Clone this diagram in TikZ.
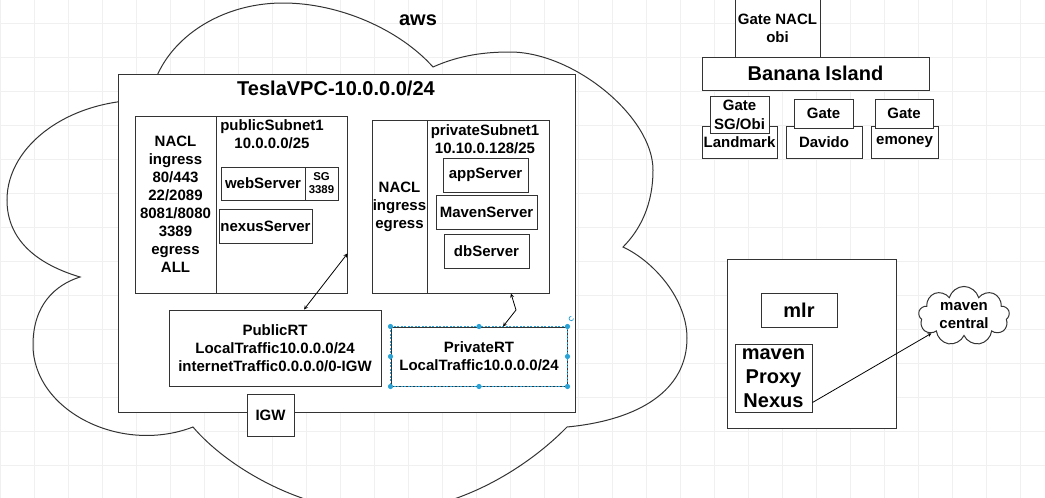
\documentclass[tikz,border=0pt]{standalone}
\usepackage{fontspec}
\setmainfont{Liberation Sans}
\usetikzlibrary{shapes.symbols}

\definecolor{linegray}{HTML}{333333}
\definecolor{gridgray}{HTML}{F0F0F0}
\definecolor{selblue}{HTML}{29A3D8}

\newcommand{\bigfont}{\fontsize{20}{24}\selectfont\bfseries}
\newcommand{\midfont}{\fontsize{15}{18}\selectfont\bfseries}
\newcommand{\smallfont}{\fontsize{11.4}{13}\selectfont\bfseries}

\begin{document}
\begin{tikzpicture}[>=stealth, x=1pt, y=-1pt,
    box/.style={draw=linegray, line width=1pt, fill=white, inner sep=0pt, align=center, font=\midfont},
    txt/.style={inner sep=0pt, align=center, font=\midfont},
    link/.style={line width=0.8pt, black},
    gridline/.style={gridgray, line width=0.7pt},
    cloudline/.style={linegray, line width=1pt}]
    \useasboundingbox (0,0) rectangle (1045,498);
    % background grid
    \foreach \gx in {0,34,...,1045}
        \draw [gridline] (\gx,0) -- (\gx,498);
    \foreach \gy in {23,57,...,498}
        \draw [gridline] (0,\gy) -- (1045,\gy);
    % aws cloud
    \draw [cloudline] (150,100) .. controls (158,45) and (215,3) .. (283,3)
        .. controls (340,3) and (400,30) .. (433,67)
        .. controls (460,55) and (485,52) .. (510,52)
        .. controls (574,52) and (653,117) .. (653,170)
        .. controls (653,205) and (640,230) .. (623,247)
        .. controls (655,262) and (687,300) .. (687,338)
        .. controls (687,390) and (640,420) .. (567,427)
        .. controls (530,465) and (460,512) .. (380,512)
        .. controls (300,512) and (225,465) .. (193,427)
        .. controls (120,455) and (33,410) .. (33,345)
        .. controls (33,305) and (55,285) .. (80,277)
        .. controls (30,262) and (7,235) .. (7,200)
        .. controls (7,145) and (70,98) .. (150,100);
    \node [txt, font=\bigfont] (aws) at (418,20) {aws};

    % VPC
    \node [box, minimum width=457, minimum height=338] (vpc) at (346.5,243) {};
    \node [txt, font=\bigfont] (vpctitle) at (336,88) {TeslaVPC-10.0.0.0/24};

    % public subnet
    \node [box, minimum width=81, minimum height=177] (pubnacl) at (175.5,204.5)
        {NACL\\ingress\\80/443\\22/2089\\8081/8080\\3389\\egress\\ALL};
    \node [box, minimum width=131, minimum height=177] (pubsub) at (281.5,204.5) {};
    \node [txt] (pubtitle) at (272,134) {publicSubnet1\\10.0.0.0/25};
    \node [box, minimum width=84, minimum height=33] (web) at (263,183.5) {webServer};
    \node [box, minimum width=33, minimum height=33, font=\smallfont] (sg) at (321.5,183.5) {SG\\3389};
    \node [box, minimum width=93, minimum height=34] (nexus) at (265.5,226) {nexusServer};

    % private subnet
    \node [box, minimum width=55, minimum height=173] (privnacl) at (399.5,206.5) {NACL\\ingress\\egress};
    \node [box, minimum width=122, minimum height=173] (privsub) at (488,206.5) {};
    \node [txt] (privtitle) at (485,139) {privateSubnet1\\10.10.0.128/25};
    \node [box, minimum width=85, minimum height=34] (app) at (485.5,175) {appServer};
    \node [box, minimum width=101, minimum height=34] (maven) at (486.5,212) {MavenServer};
    \node [box, minimum width=85, minimum height=34] (db) at (486.5,251) {dbServer};

    % route tables and gateway
    \node [box, minimum width=212, minimum height=76] (pubrt) at (275,348)
        {PublicRT\\LocalTraffic10.0.0.0/24\\internetTraffic0.0.0.0/0-IGW};
    \node [box, minimum width=176, minimum height=59] (privrt) at (479,356.5)
        {PrivateRT\\LocalTraffic10.0.0.0/24};
    \node [box, minimum width=47, minimum height=42] (igw) at (270.5,415) {IGW};

    % privrt is shown selected
    \draw [selblue, line width=0.8pt, dash pattern=on 2pt off 1.5pt] (privrt.north west) rectangle (privrt.south east);
    \foreach \an in {north west,north,north east,east,south east,south,south west,west}
        \fill [selblue] (privrt.\an) circle (2.6);
    \draw [selblue, line width=0.7pt] ([xshift=6pt,yshift=8pt]privrt.north east) arc (0:270:2.2);

    \coordinate (kink) at (516,310);
    \draw [link, <->] ([yshift=40pt]pubsub.south east) -- ([xshift=29pt]pubrt.north);
    \draw [link, <->] ([xshift=23pt]privsub.south) -- (kink) -- ([xshift=24pt]privrt.north);

    % Banana Island
    \node [box, minimum width=85, minimum height=58] (gatenacl) at (777.5,28) {Gate NACL\\obi};
    \node [box, minimum width=227, minimum height=33, font=\bigfont] (banana) at (815.5,73.5) {Banana Island};
    \node [box, minimum width=75, minimum height=32] (landmark) at (739.5,142) {Landmark};
    \node [box, minimum width=59, minimum height=37, font={\fontsize{15}{19}\selectfont\bfseries}] (gatesg) at (739.5,114.5) {Gate\\SG/Obi};
    \node [box, minimum width=76, minimum height=32] (davido) at (824,142) {Davido};
    \node [box, minimum width=59, minimum height=29] (gated) at (823.5,113.5) {Gate};
    \node [box, minimum width=67, minimum height=32] (emoney) at (904.5,142) {emoney};
    \node [box, minimum width=58, minimum height=29] (gatee) at (904,113.5) {Gate};

    % mirror box
    \node [box, minimum width=169, minimum height=169] (mirror) at (811.5,343.5) {};
    \node [box, minimum width=76, minimum height=34, font=\bigfont] (mlr) at (799,310) {mlr};
    \node [box, minimum width=77, minimum height=68, font=\bigfont] (proxy) at (773.5,378) {maven\\Proxy\\Nexus};
    \node [cloud, draw=linegray, line width=1pt, fill=white, cloud puffs=9, aspect=1.6, inner sep=0pt,
        minimum width=91, minimum height=58, font=\midfont, align=center] (central) at (964,316) {maven\\central};
    \draw [link, ->] ([yshift=10pt]proxy.south east) -- (central.208);
\end{tikzpicture}
\end{document}
